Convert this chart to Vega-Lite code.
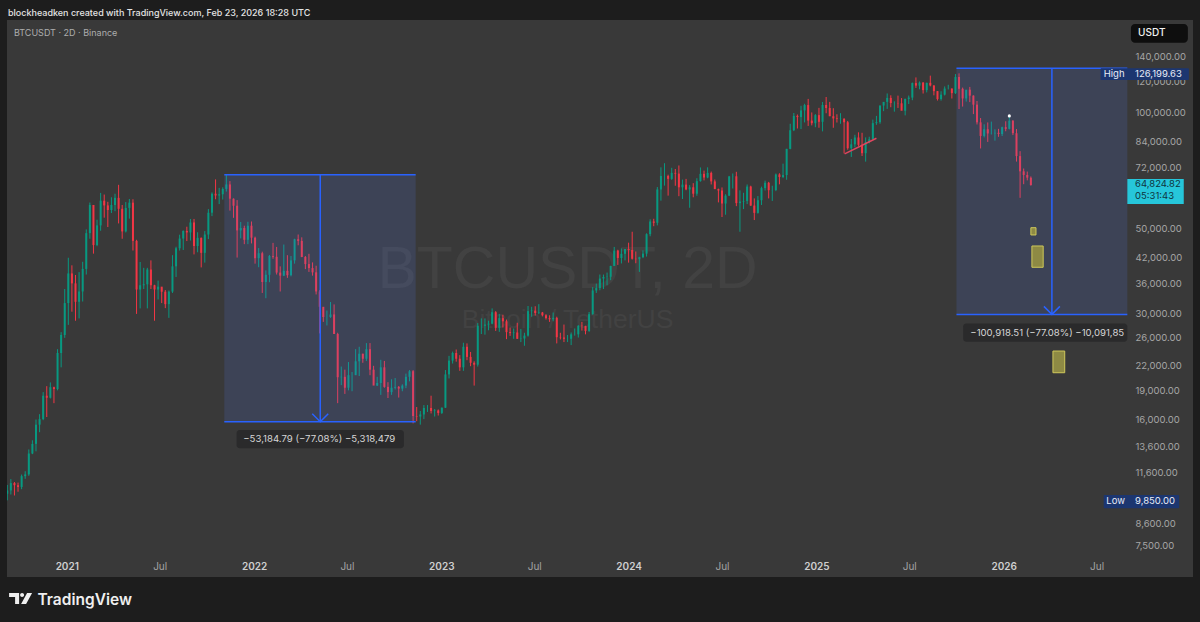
{
"$schema": "https://vega.github.io/schema/vega-lite/v6.json",
"width": 1186, "height": 557,
"autosize": {"type": "none"},
"padding": {"left": 7, "top": 20, "right": 7, "bottom": 45},
"background": "#1d1d1d",
"title": {"text": "blockheadken created with TradingView.com, Feb 23, 2026 18:28 UTC", "anchor": "start", "frame": "group", "offset": 2, "fontSize": 9, "font": "Inter", "fontWeight": 500, "color": "#e4e4e4", "dx": 1},
"config": {"view": {"fill": "#393939", "stroke": null}, "font": "Inter"},
"datasets": {
"candles": [
{"d":"2020-09-07","o":10250,"h":10800,"l":9850,"c":10450},
{"d":"2020-09-14","o":10450,"h":11180,"l":10200,"c":10920},
{"d":"2020-09-21","o":10920,"h":10990,"l":10140,"c":10780},
{"d":"2020-09-28","o":10780,"h":10950,"l":10370,"c":10670},
{"d":"2020-10-05","o":10670,"h":11490,"l":10530,"c":11380},
{"d":"2020-10-12","o":11380,"h":11720,"l":11200,"c":11500},
{"d":"2020-10-19","o":11500,"h":13350,"l":11400,"c":13030},
{"d":"2020-10-26","o":13030,"h":14100,"l":12980,"c":13800},
{"d":"2020-11-02","o":13800,"h":15960,"l":13200,"c":15480},
{"d":"2020-11-09","o":15480,"h":16480,"l":14800,"c":16000},
{"d":"2020-11-16","o":16000,"h":18800,"l":15900,"c":18400},
{"d":"2020-11-23","o":18400,"h":19480,"l":16200,"c":18180},
{"d":"2020-11-30","o":18180,"h":19920,"l":18100,"c":19360},
{"d":"2020-12-07","o":19360,"h":19420,"l":17600,"c":19150},
{"d":"2020-12-14","o":19150,"h":24300,"l":19000,"c":23750},
{"d":"2020-12-21","o":23750,"h":26900,"l":21800,"c":26450},
{"d":"2020-12-28","o":26450,"h":34800,"l":26000,"c":32000},
{"d":"2021-01-04","o":32000,"h":41950,"l":28100,"c":38200},
{"d":"2021-01-11","o":38200,"h":40100,"l":30400,"c":36000},
{"d":"2021-01-18","o":36000,"h":37850,"l":28800,"c":32250},
{"d":"2021-01-25","o":32250,"h":38500,"l":29200,"c":34300},
{"d":"2021-02-01","o":34300,"h":40950,"l":32300,"c":39250},
{"d":"2021-02-08","o":39250,"h":49700,"l":37950,"c":48600},
{"d":"2021-02-15","o":48600,"h":58350,"l":47000,"c":57500},
{"d":"2021-02-22","o":57500,"h":57500,"l":43000,"c":45250},
{"d":"2021-03-01","o":45250,"h":52650,"l":44950,"c":50900},
{"d":"2021-03-08","o":50900,"h":61800,"l":49300,"c":59000},
{"d":"2021-03-15","o":59000,"h":61200,"l":53300,"c":57350},
{"d":"2021-03-22","o":57350,"h":58600,"l":50400,"c":55800},
{"d":"2021-03-29","o":55800,"h":60200,"l":54800,"c":57500},
{"d":"2021-04-05","o":57500,"h":61500,"l":55400,"c":60000},
{"d":"2021-04-12","o":60000,"h":64850,"l":51500,"c":56200},
{"d":"2021-04-19","o":56200,"h":57500,"l":47000,"c":49100},
{"d":"2021-04-26","o":49100,"h":58500,"l":48800,"c":56500},
{"d":"2021-05-03","o":56500,"h":59600,"l":53000,"c":58300},
{"d":"2021-05-10","o":58300,"h":59500,"l":43800,"c":46400},
{"d":"2021-05-17","o":46400,"h":46700,"l":30000,"c":34700},
{"d":"2021-05-24","o":34700,"h":40900,"l":31000,"c":35600},
{"d":"2021-05-31","o":35600,"h":39500,"l":34800,"c":35800},
{"d":"2021-06-07","o":35800,"h":39500,"l":31000,"c":39100},
{"d":"2021-06-14","o":39100,"h":41300,"l":34800,"c":35600},
{"d":"2021-06-21","o":35600,"h":35700,"l":28800,"c":34700},
{"d":"2021-06-28","o":34700,"h":36600,"l":32700,"c":35300},
{"d":"2021-07-05","o":35300,"h":35100,"l":32000,"c":34250},
{"d":"2021-07-12","o":34250,"h":34600,"l":31050,"c":31800},
{"d":"2021-07-19","o":31800,"h":34500,"l":29300,"c":34280},
{"d":"2021-07-26","o":34280,"h":42600,"l":34000,"c":39850},
{"d":"2021-08-02","o":39850,"h":44800,"l":37400,"c":44400},
{"d":"2021-08-09","o":44400,"h":48150,"l":43800,"c":47050},
{"d":"2021-08-16","o":47050,"h":49400,"l":43950,"c":49250},
{"d":"2021-08-23","o":49250,"h":50500,"l":46350,"c":48800},
{"d":"2021-08-30","o":48800,"h":52900,"l":46500,"c":51800},
{"d":"2021-09-06","o":51800,"h":52900,"l":42800,"c":45000},
{"d":"2021-09-13","o":45000,"h":48850,"l":43350,"c":47250},
{"d":"2021-09-20","o":47250,"h":47350,"l":39600,"c":43200},
{"d":"2021-09-27","o":43200,"h":49200,"l":40750,"c":48200},
{"d":"2021-10-04","o":48200,"h":56100,"l":46900,"c":54900},
{"d":"2021-10-11","o":54900,"h":62000,"l":53800,"c":61500},
{"d":"2021-10-18","o":61500,"h":67000,"l":59500,"c":60850},
{"d":"2021-10-25","o":60850,"h":63700,"l":57800,"c":61300},
{"d":"2021-11-01","o":61300,"h":63900,"l":59400,"c":63300},
{"d":"2021-11-08","o":63300,"h":69000,"l":62300,"c":65000},
{"d":"2021-11-15","o":65000,"h":66300,"l":55600,"c":59700},
{"d":"2021-11-22","o":59700,"h":59800,"l":53250,"c":57250},
{"d":"2021-11-29","o":57250,"h":59200,"l":42000,"c":49400},
{"d":"2021-12-06","o":49400,"h":51950,"l":47100,"c":50100},
{"d":"2021-12-13","o":50100,"h":50800,"l":45500,"c":46700},
{"d":"2021-12-20","o":46700,"h":52000,"l":45500,"c":50800},
{"d":"2021-12-27","o":50800,"h":52100,"l":45700,"c":47300},
{"d":"2022-01-03","o":47300,"h":47600,"l":40500,"c":41850},
{"d":"2022-01-10","o":41850,"h":44450,"l":39650,"c":43100},
{"d":"2022-01-17","o":43100,"h":43500,"l":34000,"c":36300},
{"d":"2022-01-24","o":36300,"h":38900,"l":32950,"c":37900},
{"d":"2022-01-31","o":37900,"h":42650,"l":36250,"c":42400},
{"d":"2022-02-07","o":42400,"h":45850,"l":41700,"c":42200},
{"d":"2022-02-14","o":42200,"h":44750,"l":37950,"c":38400},
{"d":"2022-02-21","o":38400,"h":39850,"l":34300,"c":37700},
{"d":"2022-02-28","o":37700,"h":45400,"l":37600,"c":38800},
{"d":"2022-03-07","o":38800,"h":42600,"l":37200,"c":37800},
{"d":"2022-03-14","o":37800,"h":42400,"l":37550,"c":41300},
{"d":"2022-03-21","o":41300,"h":47000,"l":40500,"c":46850},
{"d":"2022-03-28","o":46850,"h":48200,"l":45200,"c":46400},
{"d":"2022-04-04","o":46400,"h":47400,"l":42100,"c":42150},
{"d":"2022-04-11","o":42150,"h":42400,"l":39200,"c":40400},
{"d":"2022-04-18","o":40400,"h":42950,"l":38550,"c":39450},
{"d":"2022-04-25","o":39450,"h":40800,"l":37700,"c":38450},
{"d":"2022-05-02","o":38450,"h":40000,"l":33700,"c":34300},
{"d":"2022-05-09","o":34300,"h":34600,"l":26700,"c":31300},
{"d":"2022-05-16","o":31300,"h":31000,"l":28600,"c":29450},
{"d":"2022-05-23","o":29450,"h":30600,"l":28000,"c":29450},
{"d":"2022-05-30","o":29450,"h":32200,"l":29300,"c":29900},
{"d":"2022-06-06","o":29900,"h":31750,"l":26600,"c":26600},
{"d":"2022-06-13","o":26600,"h":26800,"l":17600,"c":20550},
{"d":"2022-06-20","o":20550,"h":21900,"l":19600,"c":20600},
{"d":"2022-06-27","o":20600,"h":21500,"l":18600,"c":19300},
{"d":"2022-07-04","o":19300,"h":22500,"l":19000,"c":20800},
{"d":"2022-07-11","o":20800,"h":21200,"l":18900,"c":20800},
{"d":"2022-07-18","o":20800,"h":24300,"l":21050,"c":22600},
{"d":"2022-07-25","o":22600,"h":24650,"l":20700,"c":23650},
{"d":"2022-08-01","o":23650,"h":23650,"l":22400,"c":22950},
{"d":"2022-08-08","o":22950,"h":25200,"l":22650,"c":24300},
{"d":"2022-08-15","o":24300,"h":25200,"l":20800,"c":21500},
{"d":"2022-08-22","o":21500,"h":22000,"l":19800,"c":19550},
{"d":"2022-08-29","o":19550,"h":20600,"l":19500,"c":19850},
{"d":"2022-09-05","o":19850,"h":22800,"l":18500,"c":21800},
{"d":"2022-09-12","o":21800,"h":22650,"l":19300,"c":19400},
{"d":"2022-09-19","o":19400,"h":19950,"l":18150,"c":18800},
{"d":"2022-09-26","o":18800,"h":20300,"l":18500,"c":19300},
{"d":"2022-10-03","o":19300,"h":20450,"l":19100,"c":19400},
{"d":"2022-10-10","o":19400,"h":19500,"l":18200,"c":19200},
{"d":"2022-10-17","o":19200,"h":19700,"l":18900,"c":19550},
{"d":"2022-10-24","o":19550,"h":21000,"l":19250,"c":20600},
{"d":"2022-10-31","o":20600,"h":21450,"l":20050,"c":21300},
{"d":"2022-11-07","o":21300,"h":21450,"l":15600,"c":16300},
{"d":"2022-11-14","o":16300,"h":17200,"l":15800,"c":16250},
{"d":"2022-11-21","o":16250,"h":16800,"l":15480,"c":16450},
{"d":"2022-11-28","o":16450,"h":17400,"l":16000,"c":17100},
{"d":"2022-12-05","o":17100,"h":17400,"l":16700,"c":17100},
{"d":"2022-12-12","o":17100,"h":18400,"l":16550,"c":16800},
{"d":"2022-12-19","o":16800,"h":17000,"l":16250,"c":16850},
{"d":"2022-12-26","o":16850,"h":16950,"l":16350,"c":16600},
{"d":"2023-01-02","o":16600,"h":17150,"l":16500,"c":17130},
{"d":"2023-01-09","o":17130,"h":21450,"l":17100,"c":20900},
{"d":"2023-01-16","o":20900,"h":23350,"l":20400,"c":22700},
{"d":"2023-01-23","o":22700,"h":23950,"l":22300,"c":23750},
{"d":"2023-01-30","o":23750,"h":24250,"l":22550,"c":22950},
{"d":"2023-02-06","o":22950,"h":23450,"l":21350,"c":21800},
{"d":"2023-02-13","o":21800,"h":25250,"l":21350,"c":24650},
{"d":"2023-02-20","o":24650,"h":25150,"l":22750,"c":23200},
{"d":"2023-02-27","o":23200,"h":23900,"l":21950,"c":22400},
{"d":"2023-03-06","o":22400,"h":22600,"l":19550,"c":22150},
{"d":"2023-03-13","o":22150,"h":28400,"l":21900,"c":27950},
{"d":"2023-03-20","o":27950,"h":29200,"l":26600,"c":27950},
{"d":"2023-03-27","o":27950,"h":29200,"l":26500,"c":28150},
{"d":"2023-04-03","o":28150,"h":28800,"l":27200,"c":28300},
{"d":"2023-04-10","o":28300,"h":31000,"l":28200,"c":30300},
{"d":"2023-04-17","o":30300,"h":30500,"l":27100,"c":27600},
{"d":"2023-04-24","o":27600,"h":30000,"l":26950,"c":29250},
{"d":"2023-05-01","o":29250,"h":29850,"l":27650,"c":28700},
{"d":"2023-05-08","o":28700,"h":29000,"l":25800,"c":26900},
{"d":"2023-05-15","o":26900,"h":27650,"l":26300,"c":26750},
{"d":"2023-05-22","o":26750,"h":27500,"l":25850,"c":26850},
{"d":"2023-05-29","o":26850,"h":28450,"l":25850,"c":25850},
{"d":"2023-06-05","o":25850,"h":27400,"l":25350,"c":25900},
{"d":"2023-06-12","o":25900,"h":26800,"l":24800,"c":26350},
{"d":"2023-06-19","o":26350,"h":31450,"l":26200,"c":30500},
{"d":"2023-06-26","o":30500,"h":31300,"l":29500,"c":30600},
{"d":"2023-07-03","o":30600,"h":31400,"l":29700,"c":30150},
{"d":"2023-07-10","o":30150,"h":31800,"l":29950,"c":30250},
{"d":"2023-07-17","o":30250,"h":30350,"l":29550,"c":29750},
{"d":"2023-07-24","o":29750,"h":29950,"l":29000,"c":29250},
{"d":"2023-07-31","o":29250,"h":29750,"l":28600,"c":29050},
{"d":"2023-08-07","o":29050,"h":30250,"l":28700,"c":29300},
{"d":"2023-08-14","o":29300,"h":29500,"l":25150,"c":26100},
{"d":"2023-08-21","o":26100,"h":26800,"l":25750,"c":26050},
{"d":"2023-08-28","o":26050,"h":28150,"l":25350,"c":25850},
{"d":"2023-09-04","o":25850,"h":26450,"l":25350,"c":25850},
{"d":"2023-09-11","o":25850,"h":26850,"l":24900,"c":26550},
{"d":"2023-09-18","o":26550,"h":27500,"l":26350,"c":26550},
{"d":"2023-09-25","o":26550,"h":28050,"l":26050,"c":27950},
{"d":"2023-10-02","o":27950,"h":28600,"l":27150,"c":27900},
{"d":"2023-10-09","o":27900,"h":27950,"l":26550,"c":27100},
{"d":"2023-10-16","o":27100,"h":30350,"l":26950,"c":29950},
{"d":"2023-10-23","o":29950,"h":35200,"l":29850,"c":34500},
{"d":"2023-10-30","o":34500,"h":35950,"l":34000,"c":35000},
{"d":"2023-11-06","o":35000,"h":37950,"l":34550,"c":37050},
{"d":"2023-11-13","o":37050,"h":37950,"l":34800,"c":37400},
{"d":"2023-11-20","o":37400,"h":38400,"l":35600,"c":37450},
{"d":"2023-11-27","o":37450,"h":40000,"l":36700,"c":39950},
{"d":"2023-12-04","o":39950,"h":44750,"l":39950,"c":43800},
{"d":"2023-12-11","o":43800,"h":44000,"l":40200,"c":41900},
{"d":"2023-12-18","o":41900,"h":44350,"l":40550,"c":42950},
{"d":"2023-12-25","o":42950,"h":43800,"l":41300,"c":44200},
{"d":"2024-01-01","o":44200,"h":45900,"l":40750,"c":43950},
{"d":"2024-01-08","o":43950,"h":49000,"l":41500,"c":41700},
{"d":"2024-01-15","o":41700,"h":43550,"l":40600,"c":41600},
{"d":"2024-01-22","o":41600,"h":42200,"l":38550,"c":42100},
{"d":"2024-01-29","o":42100,"h":43850,"l":41850,"c":43000},
{"d":"2024-02-05","o":43000,"h":48550,"l":42250,"c":48300},
{"d":"2024-02-12","o":48300,"h":52800,"l":47700,"c":52100},
{"d":"2024-02-19","o":52100,"h":52950,"l":50650,"c":51700},
{"d":"2024-02-26","o":51700,"h":64000,"l":50900,"c":63100},
{"d":"2024-03-04","o":63100,"h":72000,"l":59000,"c":68400},
{"d":"2024-03-11","o":68400,"h":73800,"l":64550,"c":68400},
{"d":"2024-03-18","o":68400,"h":68900,"l":60800,"c":67200},
{"d":"2024-03-25","o":67200,"h":71800,"l":66800,"c":69650},
{"d":"2024-04-01","o":69650,"h":71300,"l":64500,"c":69350},
{"d":"2024-04-08","o":69350,"h":72800,"l":60600,"c":63900},
{"d":"2024-04-15","o":63900,"h":66900,"l":59600,"c":64950},
{"d":"2024-04-22","o":64950,"h":67200,"l":62800,"c":63100},
{"d":"2024-04-29","o":63100,"h":64750,"l":56550,"c":63900},
{"d":"2024-05-06","o":63900,"h":65500,"l":60200,"c":61500},
{"d":"2024-05-13","o":61500,"h":67450,"l":60750,"c":66300},
{"d":"2024-05-20","o":66300,"h":71950,"l":66100,"c":69250},
{"d":"2024-05-27","o":69250,"h":70600,"l":66600,"c":67750},
{"d":"2024-06-03","o":67750,"h":72000,"l":67450,"c":69650},
{"d":"2024-06-10","o":69650,"h":70200,"l":65000,"c":66200},
{"d":"2024-06-17","o":66200,"h":66950,"l":63400,"c":63200},
{"d":"2024-06-24","o":63200,"h":63400,"l":58400,"c":62700},
{"d":"2024-07-01","o":62700,"h":63850,"l":53500,"c":58000},
{"d":"2024-07-08","o":58000,"h":61300,"l":54250,"c":60800},
{"d":"2024-07-15","o":60800,"h":68400,"l":60650,"c":68200},
{"d":"2024-07-22","o":68200,"h":69400,"l":63450,"c":68250},
{"d":"2024-07-29","o":68250,"h":70100,"l":57100,"c":58150},
{"d":"2024-08-05","o":58150,"h":62750,"l":49000,"c":58700},
{"d":"2024-08-12","o":58700,"h":61850,"l":56100,"c":58900},
{"d":"2024-08-19","o":58900,"h":65000,"l":57800,"c":64200},
{"d":"2024-08-26","o":64200,"h":64500,"l":57200,"c":57300},
{"d":"2024-09-02","o":57300,"h":59800,"l":52550,"c":54850},
{"d":"2024-09-09","o":54850,"h":60650,"l":54600,"c":59150},
{"d":"2024-09-16","o":59150,"h":64150,"l":57500,"c":63600},
{"d":"2024-09-23","o":63600,"h":66500,"l":62700,"c":65650},
{"d":"2024-09-30","o":65650,"h":66000,"l":59800,"c":62800},
{"d":"2024-10-07","o":62800,"h":64500,"l":58900,"c":62850},
{"d":"2024-10-14","o":62850,"h":69400,"l":62450,"c":69000},
{"d":"2024-10-21","o":69000,"h":69500,"l":65050,"c":67950},
{"d":"2024-10-28","o":67950,"h":73600,"l":67500,"c":68750},
{"d":"2024-11-04","o":68750,"h":80400,"l":66850,"c":80400},
{"d":"2024-11-11","o":80400,"h":93400,"l":80200,"c":89850},
{"d":"2024-11-18","o":89850,"h":99600,"l":89400,"c":97900},
{"d":"2024-11-25","o":97900,"h":98700,"l":90800,"c":97200},
{"d":"2024-12-02","o":97200,"h":104000,"l":90500,"c":101150},
{"d":"2024-12-09","o":101150,"h":105250,"l":94150,"c":104450},
{"d":"2024-12-16","o":104450,"h":108350,"l":92200,"c":95200},
{"d":"2024-12-23","o":95200,"h":99950,"l":92500,"c":93700},
{"d":"2024-12-30","o":93700,"h":98950,"l":91500,"c":98350},
{"d":"2025-01-06","o":98350,"h":102700,"l":91200,"c":94500},
{"d":"2025-01-13","o":94500,"h":106400,"l":89250,"c":104500},
{"d":"2025-01-20","o":104500,"h":109600,"l":99450,"c":102600},
{"d":"2025-01-27","o":102600,"h":106450,"l":97750,"c":97700},
{"d":"2025-02-03","o":97700,"h":102500,"l":91200,"c":96450},
{"d":"2025-02-10","o":96450,"h":98850,"l":94100,"c":96100},
{"d":"2025-02-17","o":96100,"h":99500,"l":93400,"c":96250},
{"d":"2025-02-24","o":96250,"h":96500,"l":78250,"c":94250},
{"d":"2025-03-03","o":94250,"h":95000,"l":80000,"c":80700},
{"d":"2025-03-10","o":80700,"h":85300,"l":76600,"c":82600},
{"d":"2025-03-17","o":82600,"h":87450,"l":81150,"c":86050},
{"d":"2025-03-24","o":86050,"h":88750,"l":81600,"c":82350},
{"d":"2025-03-31","o":82350,"h":88500,"l":77050,"c":78350},
{"d":"2025-04-07","o":78350,"h":86100,"l":74500,"c":83750},
{"d":"2025-04-14","o":83750,"h":86450,"l":83100,"c":85150},
{"d":"2025-04-21","o":85150,"h":95750,"l":85050,"c":93750},
{"d":"2025-04-28","o":93750,"h":97900,"l":92800,"c":94300},
{"d":"2025-05-05","o":94300,"h":104150,"l":93400,"c":104150},
{"d":"2025-05-12","o":104150,"h":105800,"l":100700,"c":106450},
{"d":"2025-05-19","o":106450,"h":111950,"l":102100,"c":109000},
{"d":"2025-05-26","o":109000,"h":110700,"l":103100,"c":105700},
{"d":"2025-06-02","o":105700,"h":106800,"l":100400,"c":105700},
{"d":"2025-06-09","o":105700,"h":110500,"l":102650,"c":105550},
{"d":"2025-06-16","o":105550,"h":108900,"l":102350,"c":100950},
{"d":"2025-06-23","o":100950,"h":108550,"l":98200,"c":108350},
{"d":"2025-06-30","o":108350,"h":110550,"l":105100,"c":109200},
{"d":"2025-07-07","o":109200,"h":119500,"l":107500,"c":119100},
{"d":"2025-07-14","o":119100,"h":123200,"l":115700,"c":117300},
{"d":"2025-07-21","o":117300,"h":120250,"l":114750,"c":119450},
{"d":"2025-07-28","o":119450,"h":119800,"l":111900,"c":114200},
{"d":"2025-08-04","o":114200,"h":119300,"l":112650,"c":119300},
{"d":"2025-08-11","o":119300,"h":124500,"l":116800,"c":117400},
{"d":"2025-08-18","o":117400,"h":117600,"l":110700,"c":113500},
{"d":"2025-08-25","o":113500,"h":113600,"l":107300,"c":108250},
{"d":"2025-09-01","o":108250,"h":113400,"l":107250,"c":111150},
{"d":"2025-09-08","o":111150,"h":116750,"l":110600,"c":115250},
{"d":"2025-09-15","o":115250,"h":117900,"l":114650,"c":115250},
{"d":"2025-09-22","o":115250,"h":115400,"l":108600,"c":112150},
{"d":"2025-09-29","o":112150,"h":125700,"l":111600,"c":123500},
{"d":"2025-10-06","o":123500,"h":126200,"l":102000,"c":115100},
{"d":"2025-10-13","o":115100,"h":115950,"l":103500,"c":108650},
{"d":"2025-10-20","o":108650,"h":114000,"l":106650,"c":114500},
{"d":"2025-10-27","o":114500,"h":116400,"l":106300,"c":110500},
{"d":"2025-11-03","o":110500,"h":110700,"l":98950,"c":104700},
{"d":"2025-11-10","o":104700,"h":107000,"l":93000,"c":94200},
{"d":"2025-11-17","o":94200,"h":96650,"l":80600,"c":86850},
{"d":"2025-11-24","o":86850,"h":93100,"l":86100,"c":90400},
{"d":"2025-12-01","o":90400,"h":94150,"l":83800,"c":88150},
{"d":"2025-12-08","o":88150,"h":94600,"l":87600,"c":88200},
{"d":"2025-12-15","o":88200,"h":90350,"l":84450,"c":88500},
{"d":"2025-12-22","o":88500,"h":90600,"l":86400,"c":87850},
{"d":"2025-12-29","o":87850,"h":91800,"l":86800,"c":91500},
{"d":"2026-01-05","o":91500,"h":94800,"l":89300,"c":90600},
{"d":"2026-01-12","o":90600,"h":97900,"l":90300,"c":95100},
{"d":"2026-01-19","o":95100,"h":95500,"l":87300,"c":88300},
{"d":"2026-01-26","o":88300,"h":90500,"l":74500,"c":77000},
{"d":"2026-02-02","o":77000,"h":79300,"l":60000,"c":70300},
{"d":"2026-02-09","o":70300,"h":71500,"l":65100,"c":68800},
{"d":"2026-02-16","o":68800,"h":70200,"l":66600,"c":67700},
{"d":"2026-02-23","o":67700,"h":68200,"l":64500,"c":64825}
],
"measure": [
{"a":"2021-11-04","b":"2022-11-12","m":"2022-05-10","top":68830,"bot":15760},
{"a":"2025-10-01","b":"2026-08-30","m":"2026-04-05","top":130200,"bot":29910}
],
"tags": [
{"a":"2021-11-28","b":"2022-10-20","top":15000,"bot":13440,"t0":"2021-12-11","p":14210,"t":"−53,184.79 (−77.08%) −5,318,479"},
{"a":"2025-10-14","b":"2026-08-30","top":28340,"bot":25390,"t0":"2025-10-28","p":26820,"t":"−100,918.51 (−77.08%) −10,091,85"}
],
"yellow": [
{"a":"2026-02-23","b":"2026-03-05","top":50210,"bot":48070},
{"a":"2026-02-25","b":"2026-03-19","top":45010,"bot":39630},
{"a":"2026-04-07","b":"2026-04-30","top":24030,"bot":21110}
],
"trend": [{"a":"2025-02-25","b":"2025-04-28","p1":78000,"p2":85670}],
"dot": [{"d":"2026-01-12","p":97900}],
"navy": [
{"a":"2026-07-09","b":"2026-12-28","top":130200,"bot":121400},
{"a":"2026-07-15","b":"2026-12-09","top":10170,"bot":9395}
],
"navytext": [
{"d":"2026-07-15","p":125800,"t":"High"},
{"d":"2026-09-14","p":125800,"t":"126,199.63"},
{"d":"2026-07-20","p":9785,"t":"Low"},
{"d":"2026-09-14","p":9785,"t":"9,850.00"}
],
"last": [{"a":"2026-08-30","b":"2026-12-18","top":67200,"bot":57850}],
"lasttext": [
{"d":"2026-09-14","p":65200,"t":"64,824.82"},
{"d":"2026-09-14","p":60510,"t":"05:31:43"}
],
"usdt": [{"a":"2026-09-06","b":"2026-12-26","top":169500,"bot":151600,"t0":"2026-09-20","p":160600,"t":"USDT"}],
"symbol": [{"d":"2020-09-20","p":160600,"t":"BTCUSDT · 2D · Binance"}],
"wm1": [{"d":"2023-09-04","p":39000,"t":"BTCUSDT, 2D"}],
"wm2": [{"d":"2023-09-04","p":28900,"t":"Bitcoin / TetherUS"}],
"logo": [{"d":"2020-10-03","p":5480}]
},
"layer": [
{"data": {"name": "wm1"}, "mark": {"type": "text", "font": "Liberation Sans", "fontSize": 59, "color": "#424242", "align": "center", "baseline": "middle"},
 "encoding": {
  "x": {"field": "d", "type": "temporal", "scale": {"type": "utc", "nice": false, "padding": 0, "domain": [{"year": 2020, "month": 9, "date": 6, "hours": 12, "utc": true}, {"year": 2027, "month": 1, "date": 5, "utc": true}]},
   "axis": {"orient": "bottom", "offset": -18, "values": [{"year":2021,"month":1,"date":1,"utc":true},{"year":2021,"month":7,"date":1,"utc":true},{"year":2022,"month":1,"date":1,"utc":true},{"year":2022,"month":7,"date":1,"utc":true},{"year":2023,"month":1,"date":1,"utc":true},{"year":2023,"month":7,"date":1,"utc":true},{"year":2024,"month":1,"date":1,"utc":true},{"year":2024,"month":7,"date":1,"utc":true},{"year":2025,"month":1,"date":1,"utc":true},{"year":2025,"month":7,"date":1,"utc":true},{"year":2026,"month":1,"date":1,"utc":true},{"year":2026,"month":7,"date":1,"utc":true}],
    "labelExpr": "utcmonth(datum.value) == 0 ? utcFormat(datum.value, '%Y') : 'Jul'",
    "labelFontWeight": {"condition": {"test": "utcmonth(datum.value) == 0", "value": 600}, "value": 400},
    "labelColor": {"condition": {"test": "utcmonth(datum.value) == 0", "value": "#cfcfcf"}, "value": "#a3a3a3"},
    "labelFontSize": 10, "labelFont": "Inter", "labelPadding": 2, "labelFlush": false, "labelOverlap": false,
    "domain": false, "ticks": false, "grid": false,
    "title": "TradingView", "titleX": 30, "titleY": 40, "titleAlign": "left", "titleBaseline": "middle", "titleAnchor": "start",
    "titleFontSize": 15.5, "titleFontWeight": 600, "titleColor": "#efefef", "titleFont": "Inter"}},
  "y": {"field": "p", "type": "quantitative", "scale": {"type": "log", "domain": [6231, 173600], "nice": false, "zero": false, "padding": 0},
   "axis": {"orient": "right", "offset": -62, "values": [7500, 8600, 11600, 13600, 16000, 19000, 22000, 26000, 30000, 36000, 42000, 50000, 72000, 84000, 100000, 120000, 140000],
    "format": ",.2f", "labelColor": "#a6a6a6", "labelFontSize": 9.5, "labelFont": "Inter", "labelPadding": 4, "labelFlush": false, "labelOverlap": false, "labelBound": false,
    "domain": false, "ticks": false, "grid": false, "title": null}},
  "text": {"field": "t"}}},
{"data": {"name": "wm2"}, "mark": {"type": "text", "font": "Liberation Sans", "fontSize": 26.5, "color": "#424242", "align": "center", "baseline": "middle"},
 "encoding": {"x": {"field": "d", "type": "temporal"}, "y": {"field": "p", "type": "quantitative"}, "text": {"field": "t"}}},
{"data": {"name": "symbol"}, "mark": {"type": "text", "fontSize": 9, "color": "#adadad", "align": "left", "baseline": "middle"},
 "encoding": {"x": {"field": "d", "type": "temporal"}, "y": {"field": "p", "type": "quantitative"}, "text": {"field": "t"}}},
{"mark": {"type": "rule", "color": "#3b7682", "strokeWidth": 1, "strokeDash": [2, 2], "opacity": 0.8},
 "encoding": {"y": {"datum": 64824.82, "type": "quantitative"}}},
{"data": {"name": "candles"}, "mark": {"type": "rule", "strokeWidth": 1, "clip": true},
 "encoding": {"x": {"field": "d", "type": "temporal"}, "y": {"field": "l", "type": "quantitative"}, "y2": {"field": "h"},
  "color": {"condition": {"test": "datum.c >= datum.o", "value": "#089981"}, "value": "#f23645"}}},
{"data": {"name": "candles"}, "mark": {"type": "bar", "width": 2, "clip": true},
 "encoding": {"x": {"field": "d", "type": "temporal"}, "y": {"field": "o", "type": "quantitative"}, "y2": {"field": "c"},
  "color": {"condition": {"test": "datum.c >= datum.o", "value": "#089981"}, "value": "#f23645"}}},
{"data": {"name": "measure"}, "mark": {"type": "rect", "color": "#5a7dff", "opacity": 0.15},
 "encoding": {"x": {"field": "a", "type": "temporal"}, "x2": {"field": "b"}, "y": {"field": "top", "type": "quantitative"}, "y2": {"field": "bot"}}},
{"data": {"name": "measure"}, "mark": {"type": "rule", "color": "#2962ff", "strokeWidth": 1.5},
 "encoding": {"x": {"field": "a", "type": "temporal"}, "x2": {"field": "b"}, "y": {"field": "top", "type": "quantitative"}}},
{"data": {"name": "measure"}, "mark": {"type": "rule", "color": "#2962ff", "strokeWidth": 1.5},
 "encoding": {"x": {"field": "a", "type": "temporal"}, "x2": {"field": "b"}, "y": {"field": "bot", "type": "quantitative"}}},
{"data": {"name": "measure"}, "mark": {"type": "rule", "color": "#2962ff", "strokeWidth": 1.5},
 "encoding": {"x": {"field": "m", "type": "temporal"}, "y": {"field": "top", "type": "quantitative"}, "y2": {"field": "bot"}}},
{"data": {"name": "measure"}, "mark": {"type": "point", "shape": "M -1 -1 L 0 0 L 1 -1", "filled": false, "size": 256, "color": "#2962ff", "strokeWidth": 1.5, "opacity": 1},
 "encoding": {"x": {"field": "m", "type": "temporal"}, "y": {"field": "bot", "type": "quantitative"}}},
{"data": {"name": "yellow"}, "mark": {"type": "rect", "fill": "#8e8a44", "stroke": "#cfc85a", "strokeWidth": 1},
 "encoding": {"x": {"field": "a", "type": "temporal"}, "x2": {"field": "b"}, "y": {"field": "top", "type": "quantitative"}, "y2": {"field": "bot"}}},
{"data": {"name": "trend"}, "mark": {"type": "rule", "color": "#e0465f", "strokeWidth": 1.5},
 "encoding": {"x": {"field": "a", "type": "temporal"}, "x2": {"field": "b"}, "y": {"field": "p1", "type": "quantitative"}, "y2": {"field": "p2"}}},
{"data": {"name": "dot"}, "mark": {"type": "point", "filled": true, "size": 10, "color": "#ffffff", "opacity": 1},
 "encoding": {"x": {"field": "d", "type": "temporal"}, "y": {"field": "p", "type": "quantitative"}}},
{"data": {"name": "tags"}, "mark": {"type": "rect", "color": "#2a2a2b", "cornerRadius": 3},
 "encoding": {"x": {"field": "a", "type": "temporal"}, "x2": {"field": "b"}, "y": {"field": "top", "type": "quantitative"}, "y2": {"field": "bot"}}},
{"data": {"name": "tags"}, "mark": {"type": "text", "fontSize": 9.6, "color": "#d6d6d6", "align": "left", "baseline": "middle"},
 "encoding": {"x": {"field": "t0", "type": "temporal"}, "y": {"field": "p", "type": "quantitative"}, "text": {"field": "t"}}},
{"data": {"name": "usdt"}, "mark": {"type": "rect", "color": "#0e0e0e", "cornerRadius": 4},
 "encoding": {"x": {"field": "a", "type": "temporal"}, "x2": {"field": "b"}, "y": {"field": "top", "type": "quantitative"}, "y2": {"field": "bot"}}},
{"data": {"name": "usdt"}, "mark": {"type": "text", "fontSize": 10, "fontWeight": 500, "color": "#f2f2f2", "align": "left", "baseline": "middle"},
 "encoding": {"x": {"field": "t0", "type": "temporal"}, "y": {"field": "p", "type": "quantitative"}, "text": {"field": "t"}}},
{"data": {"name": "navy"}, "mark": {"type": "rect", "color": "#1c3670", "cornerRadius": 1},
 "encoding": {"x": {"field": "a", "type": "temporal"}, "x2": {"field": "b"}, "y": {"field": "top", "type": "quantitative"}, "y2": {"field": "bot"}}},
{"data": {"name": "navytext"}, "mark": {"type": "text", "fontSize": 9.5, "color": "#e8ecf7", "align": "left", "baseline": "middle"},
 "encoding": {"x": {"field": "d", "type": "temporal"}, "y": {"field": "p", "type": "quantitative"}, "text": {"field": "t"}}},
{"data": {"name": "last"}, "mark": {"type": "rect", "color": "#26c6da"},
 "encoding": {"x": {"field": "a", "type": "temporal"}, "x2": {"field": "b"}, "y": {"field": "top", "type": "quantitative"}, "y2": {"field": "bot"}}},
{"data": {"name": "lasttext"}, "mark": {"type": "text", "fontSize": 9.5, "color": "#0f3440", "align": "left", "baseline": "middle"},
 "encoding": {"x": {"field": "d", "type": "temporal"}, "y": {"field": "p", "type": "quantitative"}, "text": {"field": "t"}}},
{"data": {"name": "logo"}, "mark": {"type": "point", "shape": "M -1 -0.478 L -0.13 -0.478 L -0.13 0.478 L -0.478 0.478 L -0.478 -0.13 L -1 -0.13 Z M -0.044 -0.304 A 0.174 0.174 0 1 0 0.304 -0.304 A 0.174 0.174 0 1 0 -0.044 -0.304 Z M 0.565 -0.478 L 1 -0.478 L 0.478 0.478 L 0.043 0.478 Z", "filled": true, "size": 529, "color": "#efefef", "opacity": 1},
 "encoding": {"x": {"field": "d", "type": "temporal"}, "y": {"field": "p", "type": "quantitative"}}}
]
}
